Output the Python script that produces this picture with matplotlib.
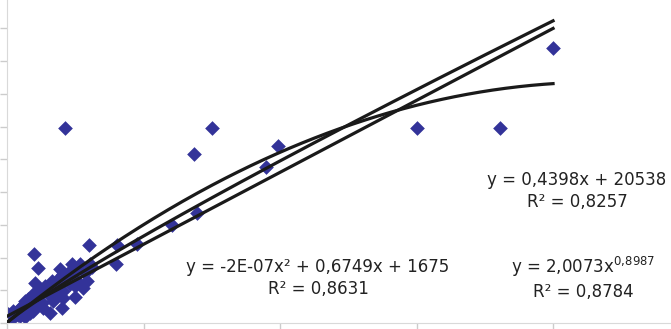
import numpy as np
import matplotlib
matplotlib.use('Agg')
import matplotlib.pyplot as plt

# scatter data
x_vals = [212e3, 751e3, 685e3, 993e3, 949e3, 1502e3, 1806e3, 2000e3, 696e3, 604e3,
          476e3, 403e3, 300e3, 399e3, 99e3, 114e3,
          238e3, 194e3, 304e3, 267e3, 103e3, 183e3, 220e3, 256e3, 293e3, 147e3,
          183e3, 249e3, 201e3, 168e3, 121e3, 84e3, 48e3, 22e3, 5e3, 11e3,
          95e3, 132e3, 95e3, 66e3, 48e3, 3e3, 158e3, 205e3, 121e3, 242e3,
          278e3, 205e3, 249e3, 205e3, 29e3, 55e3, 77e3, 114e3, 139e3, 165e3,
          194e3, 223e3, 158e3, 128e3, 18e3, 66e3, 84e3, 176e3, 231e3, 286e3,
          40e3, 70e3, 100e3, 150e3, 260e3, 310e3]
y_vals = [596e3, 596e3, 517e3, 541e3, 477e3, 596e3, 596e3, 841e3, 336e3, 300e3,
          242e3, 239e3, 239e3, 180e3, 211e3, 168e3,
          180e3, 165e3, 180e3, 180e3, 122e3, 122e3, 138e3, 128e3, 128e3, 98e3,
          98e3, 80e3, 46e3, 67e3, 67e3, 58e3, 46e3, 37e3, 6e3, 15e3,
          37e3, 46e3, 89e3, 67e3, 21e3, 28e3, 31e3, 76e3, 98e3, 159e3,
          107e3, 150e3, 113e3, 98e3, 31e3, 52e3, 73e3, 92e3, 113e3, 128e3,
          141e3, 153e3, 83e3, 61e3, 12e3, 18e3, 31e3, 107e3, 119e3, 153e3,
          25e3, 40e3, 55e3, 110e3, 165e3, 170e3]

# trendline coefficients (labels show rounded values)
lin_coef = [0.4398, 20538]
poly_coef = [-1.55e-07, 0.6749, 1675]
pow_coef = [2.0073, 0.8987]

lin_label = 'y = 0,4398x + 20538\nR² = 0,8257'
poly_label = 'y = -2E-07x² + 0,6749x + 1675\nR² = 0,8631'
pow_label = 'y = 2,0073x$^{0{,}8987}$\nR² = 0,8784'

W, H = 671, 329
fig = plt.figure(figsize=(W / 100, H / 100), dpi=100)
ax = fig.add_axes([7 / W, 6 / H, 664 / W, 323 / H])

ax.scatter(x_vals, y_vals, marker='D', s=56, color='#333399', linewidths=0, zorder=2)

xs = np.linspace(min(x_vals), max(x_vals), 300)
ax.plot(xs, np.polyval(lin_coef, xs), color='#1a1a1a', lw=2.3, zorder=3)
ax.plot(xs, np.polyval(poly_coef, xs), color='#1a1a1a', lw=2.3, zorder=3)
ax.plot(xs, pow_coef[0] * xs ** pow_coef[1], color='#1a1a1a', lw=2.3, zorder=3)

ax.set_xlim(0, 2.432e6)
ax.set_ylim(0, 987e3)
ax.set_xticks(np.arange(0, 2.5e6, 5e5))
ax.set_yticks(np.arange(0, 1e6, 1e5))
ax.tick_params(colors='#cccccc', length=5, width=1, labelleft=False, labelbottom=False)
for s in ['top', 'right']:
    ax.spines[s].set_visible(False)
for s in ['left', 'bottom']:
    ax.spines[s].set_color('#d9d9d9')

tkw = dict(ha='center', va='center', multialignment='center', fontsize=12,
           color='#222222', linespacing=1.25, family='DejaVu Sans')
fig.text(577 / W, 1 - 191 / H, lin_label, **tkw)
fig.text(318 / W, 1 - 278 / H, poly_label, **tkw)
fig.text(583 / W, 1 - 278 / H, pow_label, **tkw)

fig.savefig('out.png', dpi=100)
